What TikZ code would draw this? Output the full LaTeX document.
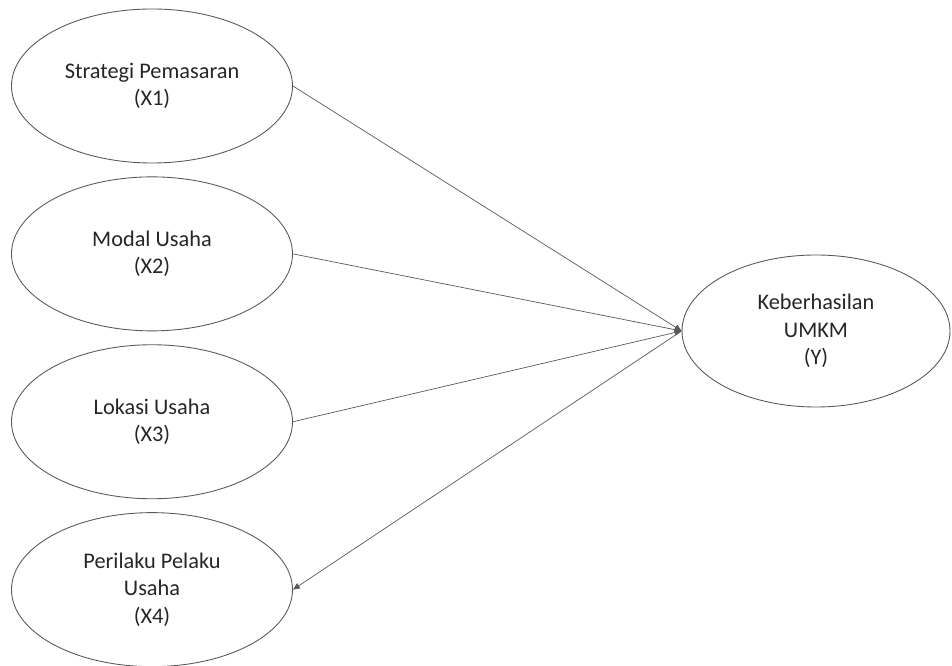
\documentclass[tikz,border=0pt]{standalone}
\usepackage{fontspec}
\setmainfont{Carlito}
\usepackage{tikz}
\usetikzlibrary{positioning,arrows.meta,shapes.geometric}
\definecolor{edge}{HTML}{595959}
\definecolor{ink}{HTML}{262626}

\begin{document}
\begin{tikzpicture}[
  font=\fontsize{12.7}{15.6}\selectfont,
  var/.style={ellipse, draw=edge, line width=0.5pt, align=center, text=ink, minimum width=5.62cm, minimum height=3.08cm, inner sep=0pt},
  arr/.style={-{Triangle[length=1.4mm,width=1.2mm]}, draw=edge, line width=0.4pt},
  node distance=0.26cm]

\useasboundingbox (0,0) rectangle (19.04,-13.32);

\node[var] (x1) at (3.04,-1.72) {Strategi Pemasaran\\(X1)};
\node[var, below=of x1] (x2) {Modal Usaha\\(X2)};
\node[var, below=of x2] (x3) {Lokasi Usaha\\(X3)};
\node[var, below=of x3] (x4) {Perilaku Pelaku\\Usaha\\(X4)};
\node[var, minimum width=5.36cm, minimum height=3.04cm] (y) at (16.32,-6.62) {Keberhasilan\\UMKM\\(Y)};

\draw[arr] (x1.east) -- (y.west);
\draw[arr] (x2.east) -- (y.west);
\draw[arr] (x3.east) -- (y.west);
\draw[arr] (y.west) -- (x4.east);
\end{tikzpicture}
\end{document}
